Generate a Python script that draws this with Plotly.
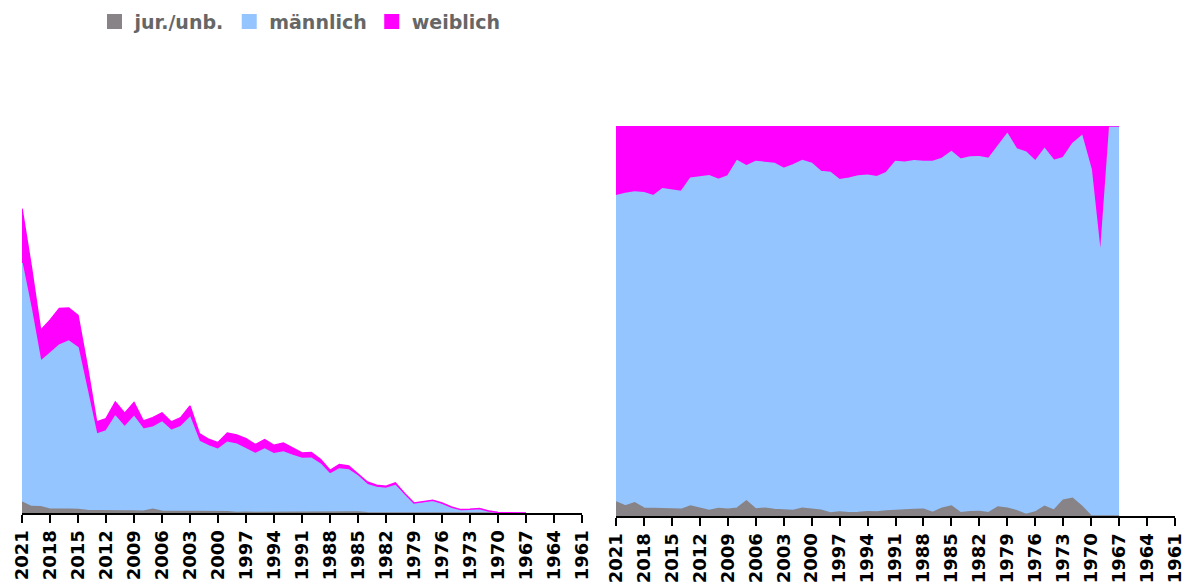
import plotly.graph_objects as go

years = list(range(2021, 1966, -1))
tick_years = list(range(2021, 1960, -3))

jur_unb = [219, 128, 124, 77, 78, 74, 71, 50, 46, 38, 31, 38, 38, 37, 73, 36, 36, 32, 32, 22,
           29, 24, 24, 12, 15, 11, 13, 15, 14, 17, 18, 19, 18, 15, 9, 19, 20, 5, 6, 6,
           5, 9, 4, 3, 1, 2, 3, 1, 3, 4, 1, 0, 0, 0, 0]
maennlich = [4779, 3944, 2912, 3118, 3278, 3366, 3235, 2391, 1530, 1601, 1905, 1683, 1887, 1639,
             1640, 1782, 1613, 1693, 1875, 1407, 1314, 1249, 1389, 1362, 1268, 1174, 1267, 1168,
             1204, 1134, 1073, 1077, 955, 761, 871, 843, 716, 562, 504, 486, 545, 359, 192, 204,
             236, 180, 110, 61, 65, 80, 38, 8, 2, 1, 1]
weiblich = [1090, 852, 618, 659, 732, 660, 648, 493, 244, 249, 284, 273, 283, 164, 195, 182, 171,
            183, 233, 159, 131, 135, 187, 186, 205, 183, 188, 171, 182, 157, 109, 112, 95, 78, 88,
            78, 52, 53, 44, 42, 50, 20, 4, 13, 17, 18, 7, 6, 6, 4, 1, 1, 1, 0, 0]

names = ["jur./unb.", "männlich", "weiblich"]
series = [jur_unb, maennlich, weiblich]
colors = ["#878387", "#94c5fe", "#ff00ff"]

W, H = 1189, 580  # page has an 8px body margin

fig = go.Figure()

for name, vals, col in zip(names, series, colors):
    fig.add_trace(go.Scatter(
        x=years, y=vals, name=name, stackgroup="abs", mode="lines",
        line=dict(color=col, width=1.5), fillcolor=col, showlegend=False,
        xaxis="x", yaxis="y", hoverinfo="x+y+name"))

for name, vals, col in zip(names, series, colors):
    fig.add_trace(go.Scatter(
        x=years, y=vals, name=name, stackgroup="rel", groupnorm="percent", mode="lines",
        line=dict(color=col, width=1.5), fillcolor=col, showlegend=False,
        xaxis="x2", yaxis="y2", hoverinfo="x+y+name"))

for name, col in zip(names, colors):
    fig.add_trace(go.Scatter(
        x=[None], y=[None], name=name, mode="markers",
        marker=dict(symbol="square", size=15, color=col),
        xaxis="x", yaxis="y", showlegend=True))

xaxis_common = dict(
    range=[2021, 1961], tickmode="array", tickvals=tick_years,
    ticktext=[str(t) for t in tick_years], tickangle=-90, automargin=False,
    showgrid=False, zeroline=False, showline=True, linecolor="black", linewidth=2,
    ticks="outside", ticklen=8, tickwidth=2, tickcolor="black",
    tickfont=dict(family="DejaVu Sans", size=18, color="black", weight="bold"),
)

fig.update_layout(
    width=W, height=H,
    margin=dict(l=0, r=0, t=0, b=0, autoexpand=False),
    plot_bgcolor="white", paper_bgcolor="white",
    xaxis=dict(domain=[14 / W, 574 / W], anchor="y", **xaxis_common),
    xaxis2=dict(domain=[608 / W, 1167 / W], anchor="y2", **xaxis_common),
    yaxis=dict(domain=[75 / H, 462 / H], range=[0, 7740], visible=False,
               showgrid=False, zeroline=False, automargin=False),
    yaxis2=dict(domain=[72 / H, 462 / H], range=[0, 100], visible=False,
                showgrid=False, zeroline=False, automargin=False),
    legend=dict(orientation="h", x=86.5 / W, xanchor="left", y=1.0091, yanchor="top",
                traceorder="normal",
                font=dict(family="DejaVu Sans", size=19, color="#666666", weight="bold"),
                bgcolor="rgba(0,0,0,0)", itemclick=False),
    showlegend=True,
)

fig.write_html("out.html")
